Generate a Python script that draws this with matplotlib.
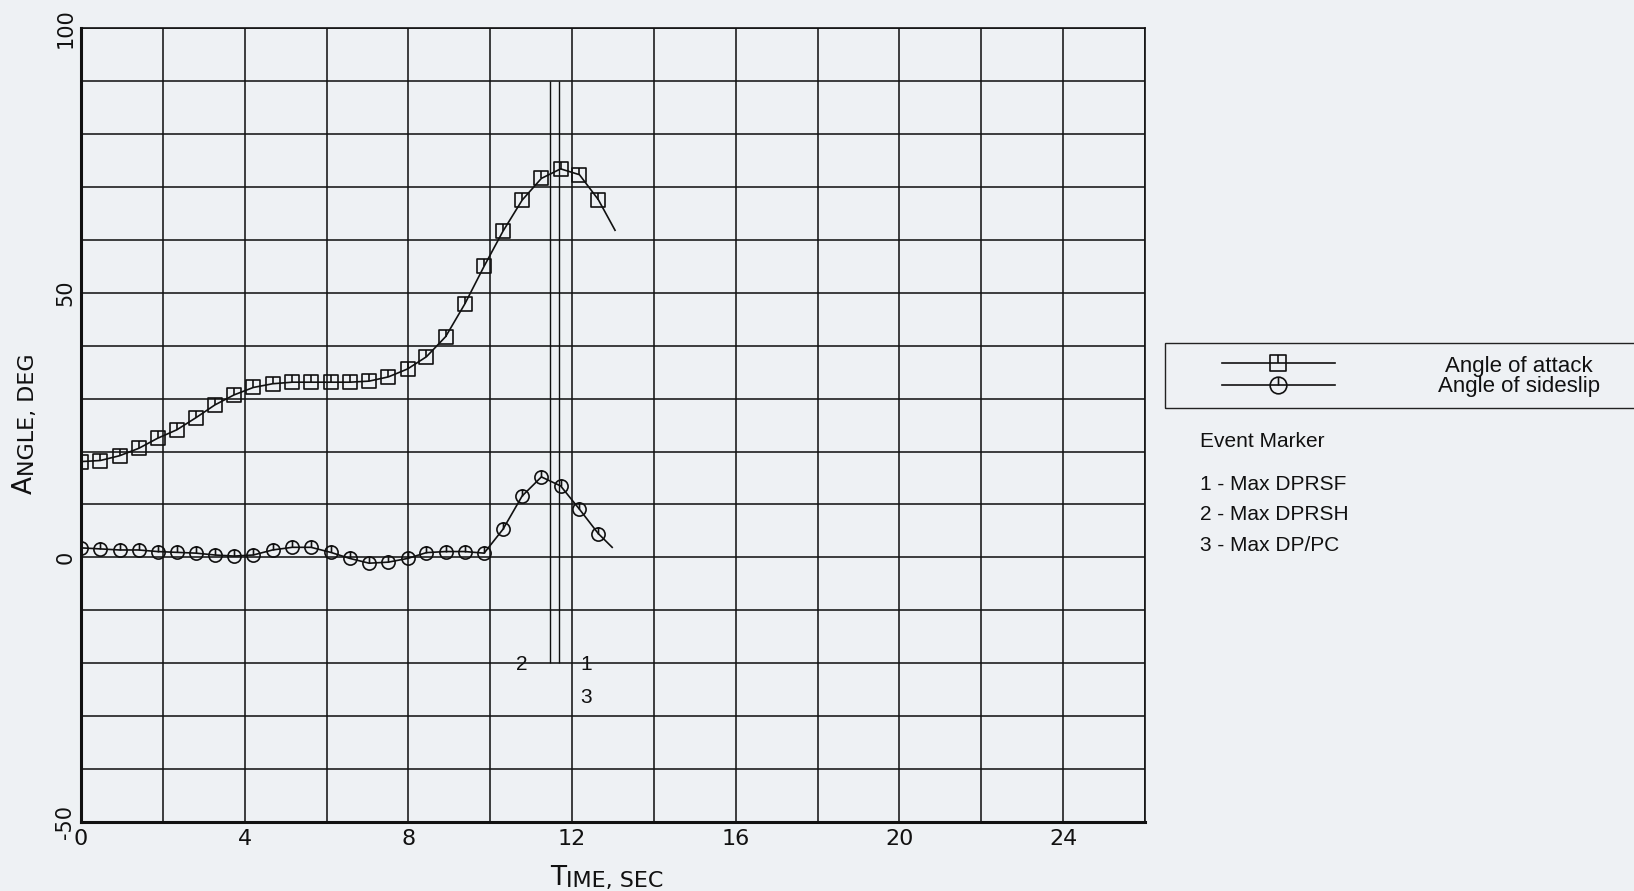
import matplotlib
matplotlib.use("Agg")
import matplotlib.pyplot as plt
from matplotlib.path import Path
from matplotlib.lines import Line2D
from matplotlib.patches import Rectangle

# sample times (sec) where markers are drawn
sample_time = [0.0, 0.47, 0.94, 1.41, 1.87, 2.34, 2.81, 3.27, 3.74, 4.21,
               4.68, 5.16, 5.62, 6.10, 6.57, 7.04, 7.51, 7.98, 8.44, 8.91,
               9.38, 9.85, 10.31, 10.78, 11.25, 11.72, 12.18, 12.64]

# angle of attack, deg
alpha = [18.1, 18.3, 19.2, 20.6, 22.5, 24.1, 26.4, 28.8, 30.7, 32.1,
         32.8, 33.1, 33.1, 33.1, 33.1, 33.3, 34.1, 35.6, 37.9, 41.7,
         47.9, 55.0, 61.6, 67.5, 71.6, 73.4, 72.3, 67.6]
alpha_end = (13.05, 61.8)

# angle of sideslip, deg
beta = [1.8, 1.6, 1.4, 1.4, 1.1, 0.95, 0.8, 0.45, 0.25, 0.45,
        1.4, 1.9, 1.9, 0.95, -0.2, -1.1, -0.9, -0.2, 0.9, 1.1,
        1.1, 0.8, 5.3, 11.6, 15.2, 13.5, 9.1, 4.5]
beta_end = (12.98, 1.9)

# event markers
event_time = [11.68, 11.46, 11.68]
event_name = ["1 - Max DPRSF", "2 - Max DPRSH", "3 - Max DP/PC"]
event_label_pos = [(12.34, -20.3), (10.78, -20.3), (12.34, -26.4)]

x_major = [0, 4, 8, 12, 16, 20, 24]
y_major = [-50, 0, 50, 100]

bg = "#eef1f4"
ink = "#111111"
plt.rcParams["axes.unicode_minus"] = False

# open markers with a short vertical stub on top, like the plotter symbols
stub = Path([(0, 0), (0, 1)], [Path.MOVETO, Path.LINETO])
sq = Path([(-1, -1), (1, -1), (1, 1), (-1, 1), (-1, -1)],
          [Path.MOVETO, Path.LINETO, Path.LINETO, Path.LINETO, Path.CLOSEPOLY])
square_mk = Path.make_compound_path(sq, stub)
circle_mk = Path.make_compound_path(Path.unit_circle(), stub)

fig = plt.figure(figsize=(16.34, 8.91), dpi=100, facecolor=bg)
ax = fig.add_axes([0.0496, 0.0774, 0.6511, 0.8911], facecolor=bg)

mk_style = dict(color=ink, lw=1.2, markersize=9.5, markerfacecolor="none",
                markeredgecolor=ink, markeredgewidth=1.2)
n = len(sample_time)
ax.plot(sample_time + [alpha_end[0]], alpha + [alpha_end[1]], marker=square_mk,
        markevery=list(range(n)), **mk_style)
ax.plot(sample_time + [beta_end[0]], beta + [beta_end[1]], marker=circle_mk,
        markevery=list(range(n)), **mk_style)

ax.vlines(sorted(set(event_time)), -20, 90, color=ink, lw=1.0)
for (ex, ey), name in zip(event_label_pos, event_name):
    ax.text(ex, ey, name.split(" ")[0], ha="center", va="center",
            fontsize=15, family="Liberation Sans", color=ink)

ax.set_xlim(0, 26)
ax.set_ylim(-50, 100)
ax.set_xticks(x_major)
ax.set_xticks(range(0, 27, 2), minor=True)
ax.set_yticks(y_major)
ax.set_yticks(range(-50, 101, 10), minor=True)
ax.grid(True, which="both", color="#151515", lw=1.15)
ax.set_axisbelow(True)
ax.tick_params(which="both", length=0)
ax.tick_params(axis="x", labelsize=16, pad=5, colors=ink)
ax.tick_params(axis="y", labelsize=15, pad=4, labelrotation=90, colors=ink)
for lbl in ax.get_yticklabels():
    lbl.set_va("center")

for side in ("left", "bottom"):
    ax.spines[side].set_linewidth(2.2)
for side in ("top", "right"):
    ax.spines[side].set_linewidth(1.2)
for sp in ax.spines.values():
    sp.set_color(ink)

# small-caps style axis titles
t1 = fig.text(0.3366, 0.0146, "T", fontsize=19, ha="left", va="center", color=ink)
ax.annotate("IME, SEC", xy=(1.0, 0.0), xycoords=t1, ha="left", va="bottom",
            fontsize=16, color=ink, annotation_clip=False)
t2 = fig.text(0.0150, 0.4460, "A", fontsize=19, rotation=90, ha="center",
              va="bottom", color=ink)
ax.annotate("NGLE, DEG", xy=(1.0, 1.0), xycoords=t2, ha="right", va="bottom",
            rotation=90, fontsize=16, color=ink, annotation_clip=False)

# legend box drawn outside the axes
fig.add_artist(Rectangle((0.713, 0.5421), 0.30, 0.0729, transform=fig.transFigure,
                         fill=False, edgecolor="#222222", lw=1.0))
legend_rows = [(0.5926, 0.5892, square_mk, "Angle of attack"),
               (0.5679, 0.5662, circle_mk, "Angle of sideslip")]
for ymk, ytxt, mk, name in legend_rows:
    fig.add_artist(Line2D([0.7479, 0.8170], [ymk, ymk], transform=fig.transFigure,
                          color=ink, lw=1.2))
    fig.add_artist(Line2D([0.7821], [ymk], transform=fig.transFigure, marker=mk,
                          linestyle="none", markersize=12, markerfacecolor="none",
                          markeredgecolor=ink, markeredgewidth=1.2))
    fig.text(0.9296, ytxt, name, ha="center", va="center", fontsize=16,
             family="Liberation Sans", color=ink)

fig.text(0.7344, 0.5050, "Event Marker", ha="left", va="center", fontsize=15,
         family="Liberation Sans", color=ink)
for i, name in enumerate(event_name):
    fig.text(0.7344, 0.4557 - i * 0.0337, name, ha="left", va="center",
             fontsize=15, family="Liberation Sans", color=ink)

fig.savefig("out.png", dpi=100, facecolor=bg)
